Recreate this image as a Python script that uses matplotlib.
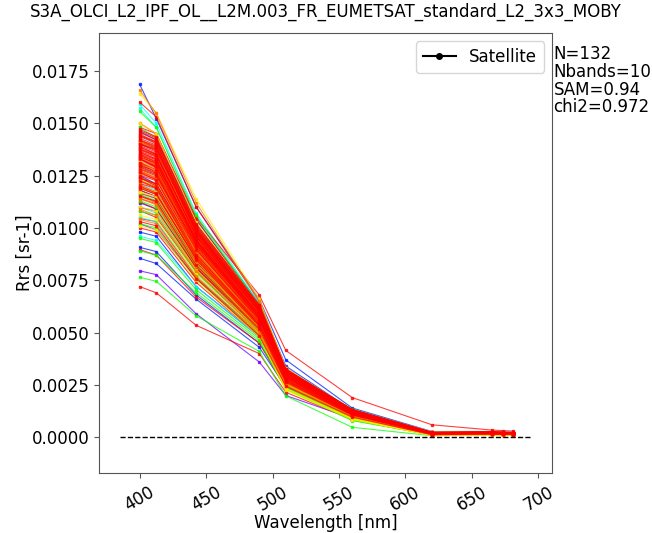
import numpy as np
import matplotlib
matplotlib.use("Agg")
import matplotlib.pyplot as plt

titre = "S3A_OLCI_L2_IPF_OL__L2M.003_FR_EUMETSAT_standard_L2_3x3_MOBY"

# Bandes OLCI utilisées (nm)
longueurs_onde = [400, 412.5, 442.5, 490, 510, 560, 620, 665, 673.75, 681.25]

# Teinte de chaque spectre (0 = rouge ... 0.75 = violet)
teintes = ([0.75] * 4 + [0.66] * 8 + [0.5] * 10 + [0.33] * 14
           + [0.16] * 12 + [0.08] * 14 + [0.0] * 70)

# Rrs des 132 match-ups, en 1e-5 sr-1 (une ligne par spectre, une colonne par bande)
rrs_e5 = [
    [795, 777, 590, 360, 200, 90, 12, 15, 14, 13],
    [1330, 1290, 920, 580, 300, 120, 22, 22, 20, 19],
    [1180, 1150, 840, 530, 280, 110, 18, 19, 18, 17],
    [1020, 990, 760, 500, 270, 105, 17, 18, 17, 16],
    [1685, 1522, 1100, 660, 370, 140, 28, 28, 26, 25],
    [907, 887, 680, 450, 250, 100, 15, 16, 15, 14],
    [855, 830, 660, 430, 240, 95, 14, 15, 14, 13],
    [1250, 1210, 880, 560, 300, 118, 20, 21, 19, 18],
    [1400, 1370, 990, 610, 320, 125, 22, 23, 21, 20],
    [1120, 1090, 810, 520, 285, 112, 18, 19, 18, 17],
    [1460, 1420, 1040, 640, 340, 130, 24, 24, 22, 21],
    [980, 960, 720, 480, 260, 104, 16, 17, 16, 15],
    [1590, 1500, 1070, 640, 330, 128, 24, 24, 22, 21],
    [1570, 1480, 1050, 630, 325, 126, 23, 23, 21, 20],
    [1210, 1180, 860, 550, 290, 115, 19, 20, 18, 17],
    [1100, 1070, 800, 520, 280, 110, 18, 18, 17, 16],
    [1380, 1340, 960, 600, 310, 122, 21, 22, 20, 19],
    [960, 940, 720, 480, 255, 102, 16, 16, 15, 14],
    [1290, 1250, 900, 570, 300, 118, 20, 21, 19, 18],
    [1050, 1030, 780, 505, 275, 108, 17, 18, 17, 16],
    [1440, 1400, 1010, 620, 320, 125, 22, 22, 21, 20],
    [1170, 1140, 840, 540, 290, 113, 19, 19, 18, 17],
    [764, 745, 580, 410, 198, 48, 8, 12, 11, 10],
    [1556, 1480, 1060, 630, 325, 135, 25, 25, 23, 22],
    [890, 870, 690, 460, 230, 80, 12, 14, 13, 12],
    [1130, 1100, 820, 520, 250, 90, 13, 15, 14, 13],
    [1020, 1000, 760, 490, 240, 85, 12, 14, 13, 12],
    [1240, 1200, 870, 540, 270, 100, 16, 18, 17, 16],
    [1350, 1310, 940, 580, 290, 112, 18, 20, 19, 18],
    [1080, 1060, 790, 510, 245, 88, 13, 15, 14, 13],
    [1190, 1160, 850, 530, 260, 96, 15, 17, 16, 15],
    [1420, 1380, 990, 600, 300, 125, 22, 23, 21, 20],
    [950, 930, 705, 470, 235, 82, 12, 14, 13, 12],
    [1300, 1270, 910, 560, 280, 108, 17, 19, 18, 17],
    [1160, 1130, 830, 525, 255, 92, 14, 16, 15, 14],
    [1480, 1430, 1020, 620, 310, 128, 23, 24, 22, 21],
    [1640, 1550, 1140, 660, 330, 130, 26, 26, 24, 23],
    [1100, 1080, 800, 500, 235, 90, 10, 12, 11, 10],
    [1230, 1200, 870, 530, 255, 100, 12, 14, 13, 12],
    [1350, 1310, 930, 570, 280, 110, 15, 17, 16, 15],
    [1010, 990, 750, 480, 225, 85, 9, 11, 10, 9],
    [1280, 1240, 890, 545, 262, 104, 13, 15, 14, 13],
    [1170, 1150, 845, 520, 248, 96, 11, 13, 12, 11],
    [1420, 1380, 980, 600, 295, 118, 17, 19, 18, 17],
    [1060, 1040, 780, 495, 232, 88, 10, 12, 11, 10],
    [1500, 1450, 1030, 625, 310, 122, 19, 21, 19, 18],
    [1200, 1170, 860, 525, 252, 98, 12, 14, 13, 12],
    [1320, 1280, 915, 560, 272, 108, 14, 16, 15, 14],
    [1658, 1546, 1120, 650, 325, 128, 25, 25, 23, 22],
    [1140, 1110, 820, 515, 260, 105, 14, 17, 16, 15],
    [1260, 1230, 880, 545, 270, 110, 16, 18, 17, 16],
    [1380, 1340, 950, 580, 285, 115, 18, 20, 19, 18],
    [1040, 1020, 770, 495, 245, 98, 12, 15, 14, 13],
    [1310, 1270, 905, 555, 276, 112, 17, 19, 18, 17],
    [1190, 1160, 850, 530, 265, 106, 15, 17, 16, 15],
    [1450, 1400, 995, 605, 298, 118, 19, 21, 20, 19],
    [1090, 1060, 795, 505, 252, 101, 13, 16, 15, 14],
    [1220, 1190, 865, 538, 268, 108, 15, 17, 16, 15],
    [1340, 1300, 925, 568, 280, 113, 17, 19, 18, 17],
    [1150, 1120, 830, 522, 262, 104, 14, 16, 15, 14],
    [1410, 1370, 970, 592, 290, 116, 18, 20, 19, 18],
    [1270, 1240, 890, 548, 272, 109, 16, 18, 17, 16],
    [720, 690, 535, 400, 215, 85, 10, 13, 12, 11],
    [896, 870, 670, 450, 235, 92, 12, 14, 13, 12],
    [1480, 1450, 1050, 680, 415, 190, 60, 35, 32, 30],
    [1600, 1530, 1100, 650, 330, 125, 22, 24, 22, 21],
    [1500, 1450, 1040, 630, 318, 122, 21, 23, 21, 20],
    [1000, 980, 740, 480, 245, 98, 13, 15, 14, 13],
    [1045, 1030, 765, 488, 248, 99, 14, 16, 15, 14],
    [1082, 1050, 790, 502, 257, 103, 15, 17, 15, 14],
    [1098, 1080, 800, 498, 252, 100, 13, 16, 15, 14],
    [1125, 1090, 812, 515, 262, 106, 16, 18, 17, 15],
    [1140, 1115, 808, 512, 259, 104, 15, 17, 16, 15],
    [1158, 1122, 835, 527, 268, 108, 16, 18, 17, 16],
    [1166, 1140, 842, 522, 264, 105, 15, 17, 16, 15],
    [1180, 1148, 850, 533, 272, 110, 17, 19, 18, 17],
    [1195, 1170, 845, 528, 266, 107, 16, 18, 17, 16],
    [1205, 1172, 862, 540, 276, 111, 17, 19, 18, 17],
    [1212, 1188, 870, 536, 270, 108, 16, 18, 17, 16],
    [1228, 1195, 868, 545, 280, 114, 18, 20, 18, 17],
    [1236, 1210, 885, 551, 278, 112, 17, 19, 18, 17],
    [1245, 1208, 878, 542, 274, 110, 17, 19, 18, 16],
    [1252, 1225, 895, 560, 285, 116, 18, 20, 19, 18],
    [1260, 1232, 890, 553, 281, 114, 18, 20, 19, 17],
    [1268, 1240, 905, 566, 288, 117, 19, 21, 19, 18],
    [1275, 1238, 898, 548, 276, 111, 17, 19, 18, 17],
    [1283, 1255, 912, 570, 292, 119, 19, 21, 20, 18],
    [1290, 1260, 906, 558, 283, 115, 18, 20, 19, 17],
    [1298, 1270, 922, 575, 294, 120, 20, 22, 20, 19],
    [1305, 1268, 915, 565, 287, 116, 18, 20, 19, 18],
    [1312, 1285, 930, 580, 297, 121, 20, 22, 20, 19],
    [1318, 1290, 925, 571, 290, 118, 19, 21, 19, 18],
    [1325, 1296, 940, 585, 300, 123, 20, 22, 21, 19],
    [1332, 1300, 932, 576, 293, 119, 19, 21, 20, 18],
    [1338, 1310, 948, 590, 303, 124, 21, 23, 21, 20],
    [1345, 1315, 940, 580, 295, 120, 19, 21, 20, 19],
    [1352, 1325, 955, 595, 306, 125, 21, 23, 21, 20],
    [1358, 1330, 950, 586, 299, 122, 20, 22, 20, 19],
    [1365, 1338, 962, 598, 308, 126, 21, 23, 22, 20],
    [1372, 1342, 958, 590, 301, 123, 20, 22, 21, 19],
    [1378, 1350, 970, 603, 310, 127, 22, 24, 22, 21],
    [1385, 1355, 965, 595, 304, 124, 20, 22, 21, 20],
    [1392, 1362, 978, 607, 312, 128, 22, 24, 22, 21],
    [1398, 1370, 972, 600, 306, 125, 21, 23, 21, 20],
    [1405, 1376, 985, 612, 315, 129, 22, 24, 23, 21],
    [1412, 1380, 980, 604, 308, 126, 21, 23, 22, 20],
    [1420, 1390, 992, 617, 318, 130, 23, 25, 23, 22],
    [1428, 1395, 986, 608, 311, 127, 21, 23, 22, 20],
    [1436, 1405, 1000, 622, 320, 131, 23, 25, 23, 22],
    [1445, 1412, 995, 612, 313, 128, 22, 24, 22, 21],
    [1455, 1420, 1008, 626, 322, 132, 23, 25, 24, 22],
    [1465, 1428, 1015, 630, 325, 133, 24, 26, 24, 22],
    [1030, 1010, 758, 485, 245, 97, 13, 15, 14, 13],
    [1150, 1128, 822, 518, 263, 106, 16, 18, 16, 15],
    [1190, 1160, 856, 536, 274, 110, 17, 19, 17, 16],
    [1240, 1200, 872, 548, 279, 113, 17, 19, 18, 17],
    [1280, 1248, 918, 572, 293, 119, 19, 21, 20, 18],
    [1310, 1278, 922, 568, 288, 117, 18, 20, 19, 18],
    [1340, 1306, 936, 585, 298, 121, 20, 22, 20, 19],
    [1362, 1328, 944, 582, 296, 120, 19, 21, 20, 19],
    [1388, 1350, 960, 598, 306, 124, 21, 23, 21, 20],
    [1402, 1372, 990, 616, 316, 129, 22, 24, 22, 21],
    [1418, 1385, 976, 602, 307, 125, 21, 23, 21, 20],
    [1440, 1410, 1005, 620, 318, 130, 22, 24, 23, 21],
    [1470, 1435, 1020, 632, 326, 133, 24, 26, 24, 23],
    [1225, 1190, 862, 540, 273, 111, 17, 19, 18, 16],
    [1265, 1230, 896, 560, 284, 115, 18, 20, 19, 17],
    [1295, 1262, 910, 562, 286, 116, 18, 20, 19, 18],
    [1330, 1292, 928, 575, 292, 118, 19, 21, 20, 18],
    [1350, 1318, 946, 588, 301, 122, 20, 22, 21, 19],
    [1375, 1345, 968, 600, 308, 125, 21, 23, 21, 20],
    [1200, 1165, 848, 530, 268, 108, 16, 18, 17, 16],
]

stats = ["N=132", "Nbands=10", "SAM=0.94", "chi2=0.972"]

rrs = np.array(rrs_e5) * 1e-5

# Ordre de tracé : violets/bleus d'abord, puis couleurs et rouges entremêlés
autres = [i for i, t in enumerate(teintes) if t > 0 and i >= 12]
rouges = [i for i, t in enumerate(teintes) if t == 0]
ordre = list(range(12))
for k in range(len(rouges)):
    ordre.append(rouges[k])
    if k < len(autres):
        ordre.append(autres[k])

plt.rcParams['font.size'] = 12
fig = plt.figure(figsize=(6.52, 5.33), dpi=100)
ax = fig.add_axes([0.152, 0.1126, 0.695, 0.8254])

for i in ordre:
    ax.plot(longueurs_onde, rrs[i], '-', marker='s', markersize=2,
            linewidth=0.8, color=plt.cm.hsv(teintes[i]), alpha=0.75)

# Ligne zéro
ax.plot([385, 695], [0, 0], 'k--', linewidth=1)
ax.set_xlim(369.5, 710.5)
ax.set_ylim(-0.0017, 0.0193)
ax.set_yticks([0.0, 0.0025, 0.005, 0.0075, 0.01, 0.0125, 0.015, 0.0175])

ax.plot([], [], 'k-', marker='o', markersize=4, label='Satellite')
ax.legend(loc='upper right')

ax.set_xlabel('Wavelength [nm]', labelpad=0)
ax.set_ylabel('Rrs [sr-1]', labelpad=-2)
plt.setp(ax.get_xticklabels(), rotation=30)
for s in ax.spines.values():
    s.set_color('#555555')
ax.tick_params(color='#555555')

fig.suptitle(titre, x=0.5, y=0.995, fontsize=12)
fig.text(0.849, 0.915, "\n".join(stats), va='top', ha='left', linespacing=0.98)

fig.savefig('out.png', dpi=100)
